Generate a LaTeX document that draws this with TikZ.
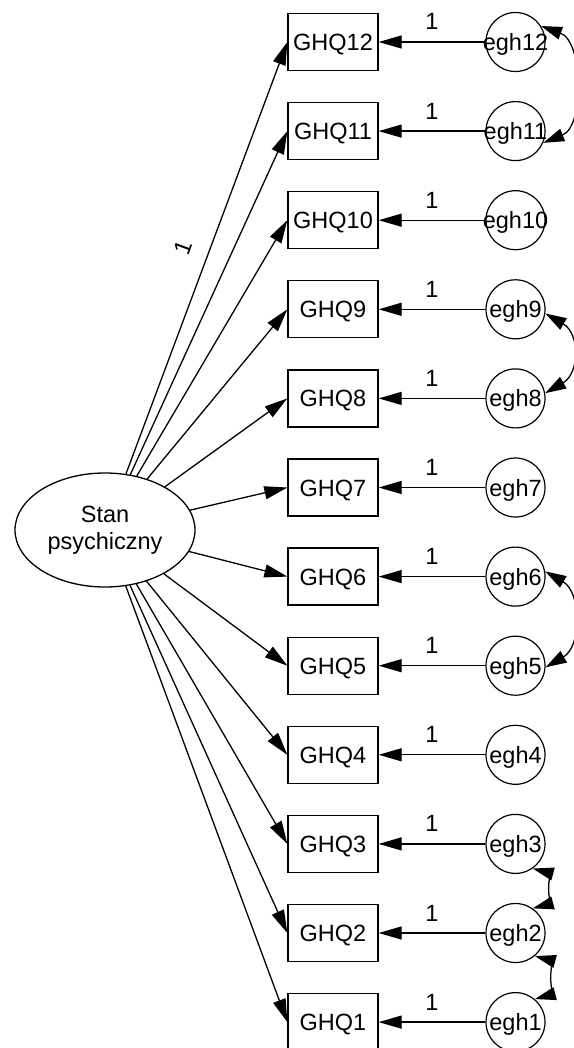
\documentclass[tikz,border=0pt]{standalone}
\usepackage{fontspec}
\setmainfont{Liberation Sans}
\usetikzlibrary{arrows.meta,shapes.geometric}

\begin{document}
\begin{tikzpicture}[x=1pt,y=1pt,
  font=\fontsize{23.5}{27}\selectfont,
  obs/.style={draw, line width=1.3pt, minimum width=90pt, minimum height=57pt,
              inner sep=0pt, text height=17pt, text depth=0pt},
  err/.style={draw, circle, line width=1.2pt, minimum size=59pt, inner sep=0pt,
              text height=17pt, text depth=0pt},
  lat/.style={draw, ellipse, line width=1.3pt, minimum width=180pt,
              minimum height=114pt, inner sep=0pt, align=center},
  loading/.style={line width=1.3pt, -{Triangle[length=23pt,width=13pt]}},
  cov/.style={line width=1.3pt,
              {Triangle[length=21pt,width=13pt]}-{Triangle[length=21pt,width=13pt]}},
  wt/.style={inner sep=0pt}
]
\useasboundingbox (0,0) rectangle (573,-1048);

% latent factor
\node[lat] (lat) at (105,-530) {Stan\\psychiczny};

% indicators, their error terms and paths
\foreach \i in {1,...,12}{
  \pgfmathsetmacro\yy{-(42+(12-\i)*89.1)}
  \node[obs] (b\i) at (333,\yy) {GHQ\i};
  \node[err] (e\i) at (515.5,\yy) {\makebox[0pt]{egh\i}};
  \node[wt, anchor=base] (l\i) at (432,\yy+12) {1};
  \draw[loading] (e\i) -- (b\i);
  \draw[loading] (lat) -- (b\i.west);
}

% fixed loading label
\node[wt, rotate=70] (w12) at (183,-248) {1};

% error covariances
\draw[cov] (e12.32) .. controls +(-20:45) and +(22:45) .. (e11.-23);
\draw[cov] (e9.-8) .. controls +(-30:40) and +(30:40) .. (e8.10);
\draw[cov] (e6.10) .. controls +(-30:42) and +(30:42) .. (e5.-3);
\draw[cov] (e3.-55) .. controls +(-15:15) and +(15:15) .. (e2.55);
\draw[cov] (e2.-50) .. controls +(-15:15) and +(15:15) .. (e1.50);
\end{tikzpicture}
\end{document}
